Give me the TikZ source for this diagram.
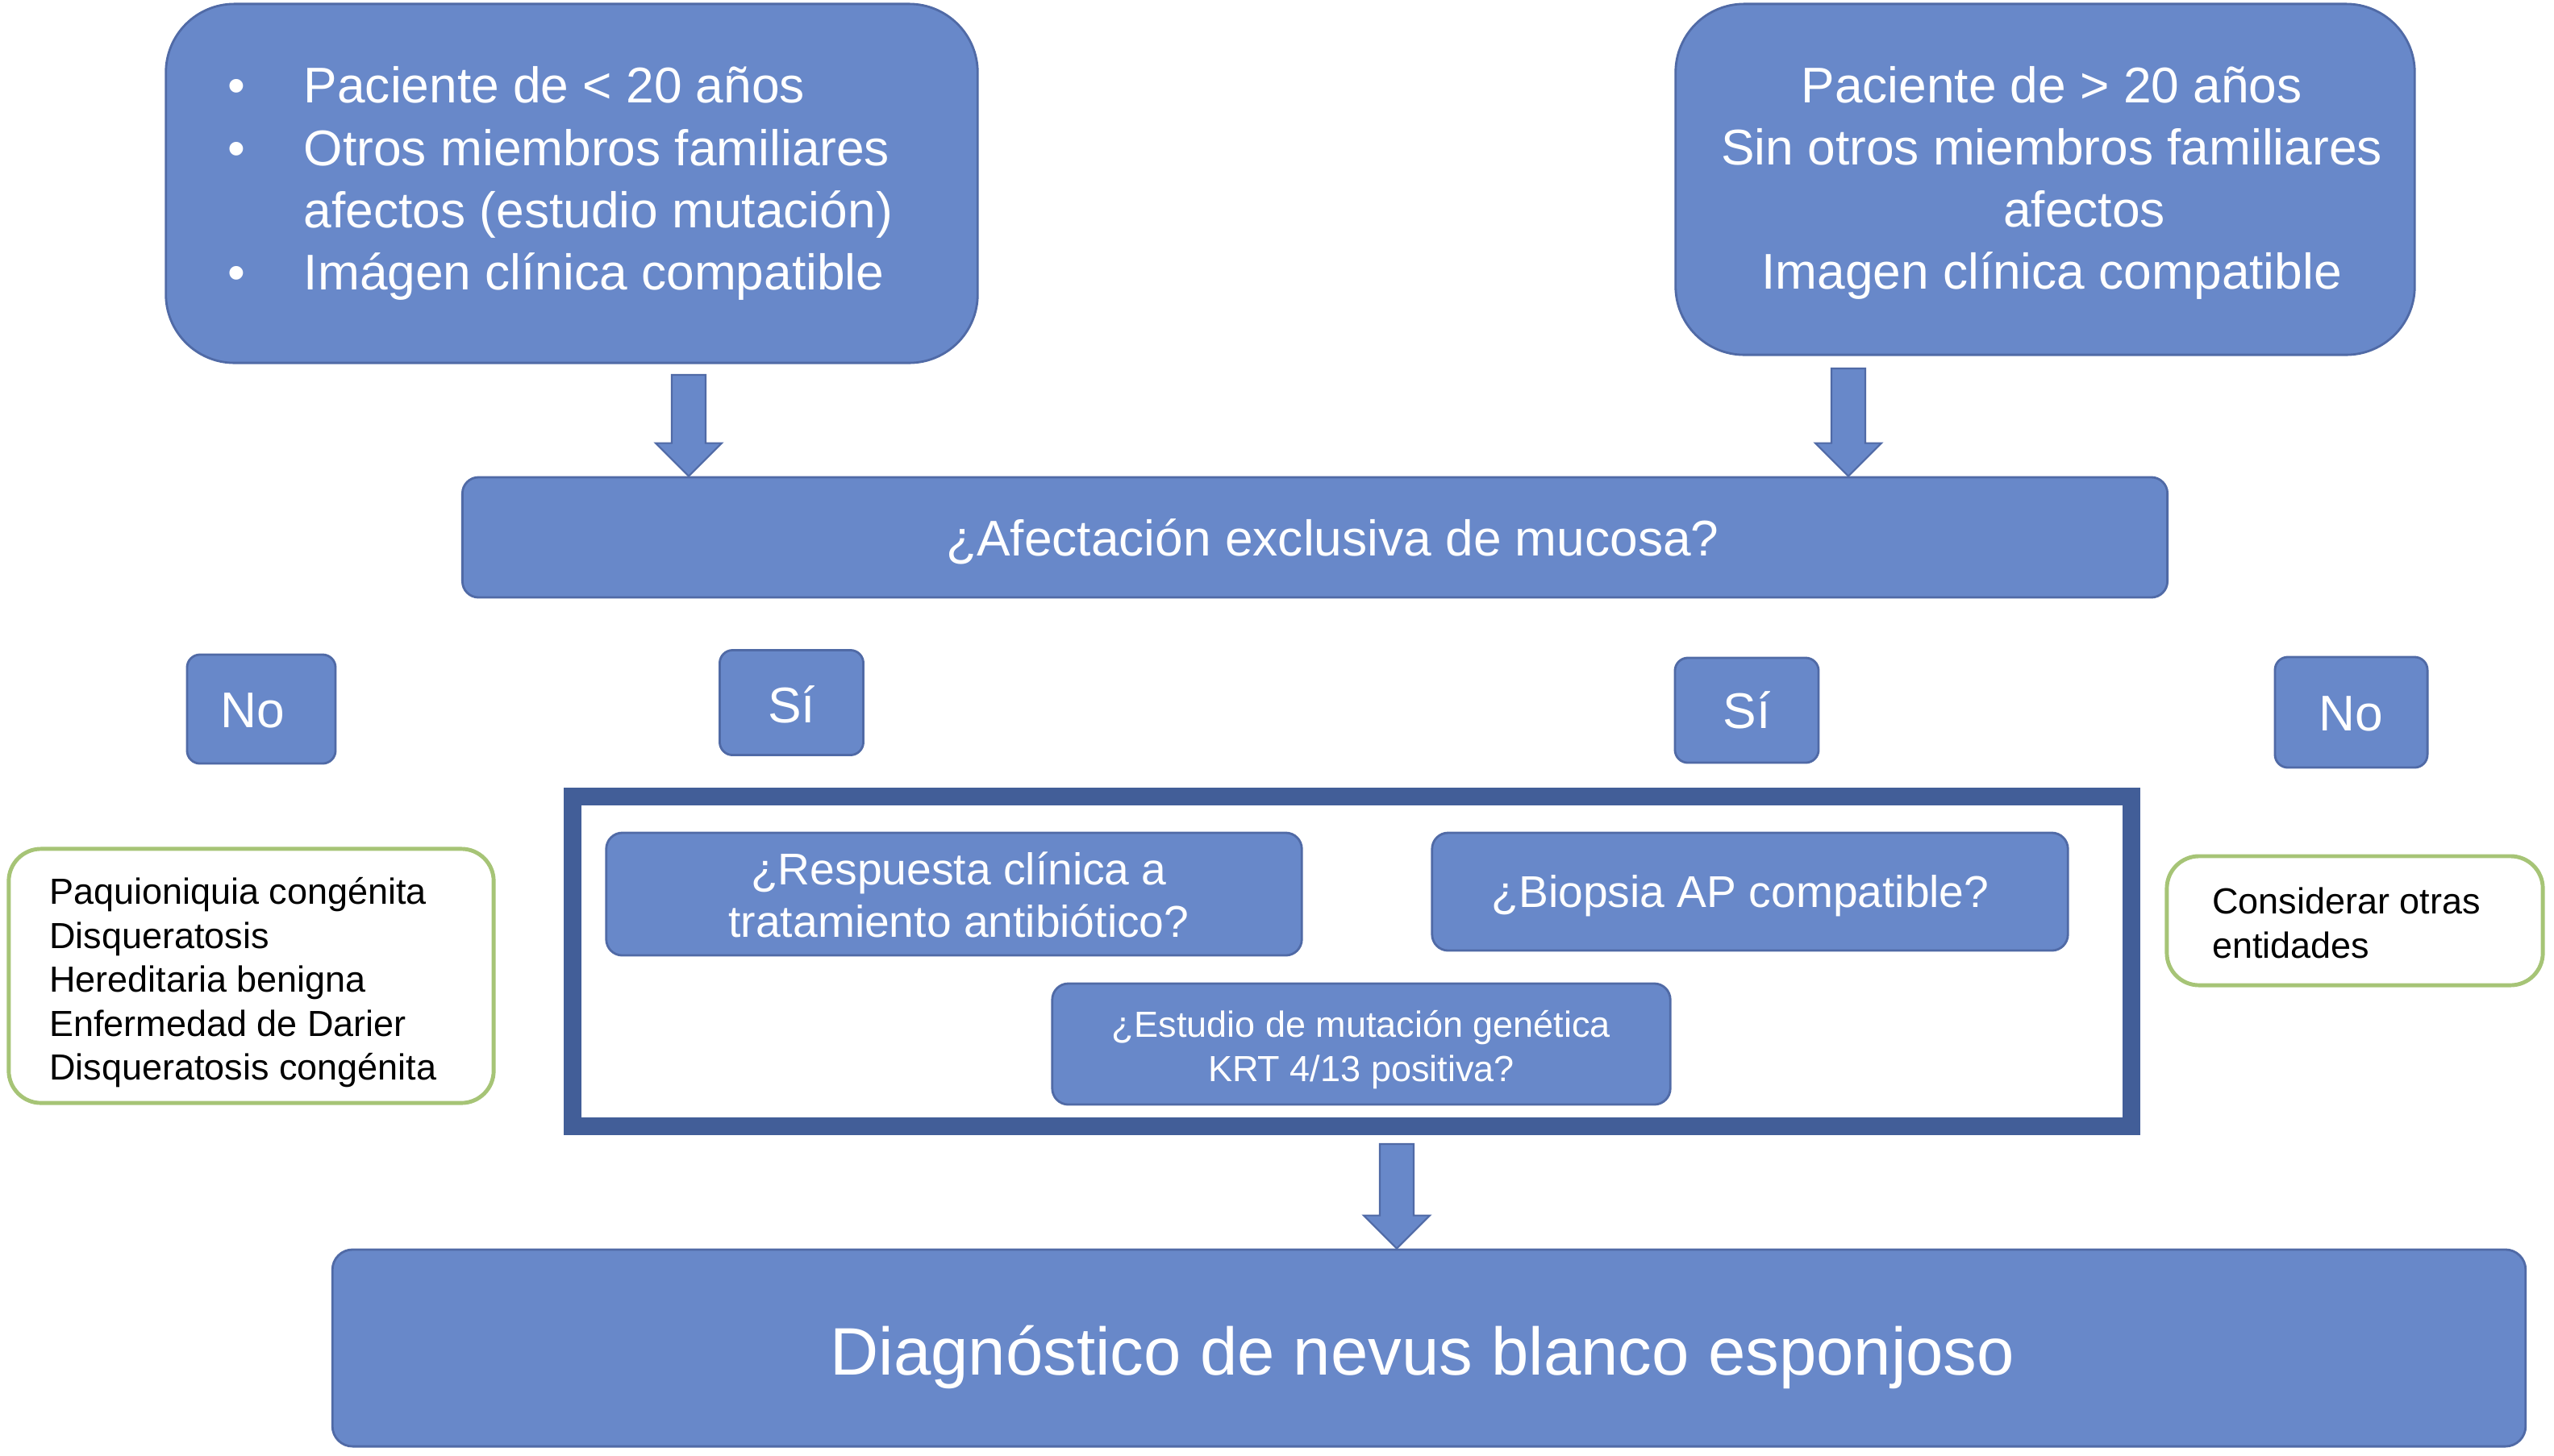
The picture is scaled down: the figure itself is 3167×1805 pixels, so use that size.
\documentclass[tikz,border=0pt]{standalone}
\usepackage{fontspec}
\setmainfont{Liberation Sans}
\usetikzlibrary{calc,positioning}
\definecolor{boxblue}{RGB}{104,136,201}
\definecolor{boxline}{RGB}{80,106,166}
\definecolor{framecol}{RGB}{66,94,152}
\definecolor{greenline}{RGB}{166,196,118}
% block arrow from a start coordinate down to its tip
\newcommand{\blockdown}[2]{%
	\draw[blockarr] ($(#1)+(-21,0)$) -- ($(#1)+(21,0)$) -- ($(#2)+(21,-41)$) -- ($(#2)+(41,-41)$)
	-- (#2) -- ($(#2)+(-41,-41)$) -- ($(#2)+(-21,-41)$) -- cycle;}
% stacked lines: left pad, right pad, alignment, lines
\newcommand{\stack}[4]{\begin{tabular}[t]{@{\hspace{#1}}#3@{\hspace{#2}}}#4\end{tabular}}

\begin{document}
\begin{tikzpicture}[
		x=0.01cm,y=-0.01cm,
		big/.style={font=\fontsize{17.7}{21.9}\selectfont},
		mid/.style={font=\fontsize{15.7}{18.5}\selectfont},
		small/.style={font=\fontsize{12.8}{15.5}\selectfont},
		bluebox/.style={draw=boxline,fill=boxblue,text=white,line width=0.8pt,inner sep=0pt},
		answer/.style={bluebox,big,rounded corners=0.16cm,text height=12.8pt,text depth=0pt},
		listbox/.style={draw=greenline,fill=white,line width=1.4pt,small,inner sep=0pt,rounded corners=0.4cm},
		frame/.style={draw=framecol,line width=0.22cm,fill=white},
		blockarr/.style={draw=boxline,fill=boxblue,line width=0.6pt}
		]
		\useasboundingbox (0,0) rectangle (3167,1805);
		
		% --- Starting boxes
		\node[bluebox,big,rounded corners=0.85cm,minimum width=10.06cm,minimum height=4.45cm,text height=13.4pt,text depth=70pt] (menor) at (709,227.5) {%
			\begin{tabular}[t]{@{}c@{\hspace{20.5pt}}l@{\hspace{8pt}}}
				\textbullet & Paciente de < 20 años\\
				\textbullet & Otros miembros familiares\\
				& afectos (estudio mutación)\\
				\textbullet & Imágen clínica compatible
		\end{tabular}};
		\node[bluebox,big,rounded corners=0.85cm,minimum width=9.16cm,minimum height=4.35cm,text height=16.2pt,text depth=70pt] (mayor) at (2536,222.5)
		{\stack{4.6pt}{0pt}{c}{Paciente de > 20 años\\Sin otros miembros familiares\\\hspace*{23pt}afectos\\Imagen clínica compatible}};
		
		\node[bluebox,big,rounded corners=0.2cm,minimum width=21.13cm,minimum height=1.49cm,text height=12.8pt,text depth=0pt] (mucosa) at (1630.5,666.5) {\hspace{12.5pt}¿Afectación exclusiva de mucosa?};
		
		\coordinate (a1) at (854,465);
		\coordinate (a2) at (2292,457);
		\blockdown{a1}{a1 |- mucosa.north}
		\blockdown{a2}{a2 |- mucosa.north}
		
		% --- Answers
		\node[answer,minimum width=1.84cm,minimum height=1.35cm] (no1) at (324,879.5) {No\hspace*{6pt}};
		\node[answer,minimum width=1.78cm,minimum height=1.3cm,text height=14.4pt] (si1) at (981.5,871.5) {Sí};
		\node[answer,minimum width=1.78cm,minimum height=1.3cm] (si2) at (2166,881) {Sí};
		\node[answer,minimum width=1.89cm,minimum height=1.37cm] (no2) at (2915.5,883.5) {No};
		
		% --- Other entities
		\node[listbox,minimum width=6.01cm,minimum height=3.15cm,text height=11.6pt,text depth=62pt] (otras1) at (311.5,1210.5)
		{\stack{0pt}{5.8pt}{l}{Paquioniquia congénita\\Disqueratosis\\Hereditaria benigna\\Enfermedad de Darier\\Disqueratosis congénita}};
		\node[listbox,minimum width=4.66cm,minimum height=1.6cm,text height=11.4pt,text depth=16pt] (otras2) at (2920,1142)
		{\stack{0pt}{6pt}{l}{Considerar otras\\entidades}};
		
		% --- Confirmation block
		\node[frame,minimum width=19.31cm,minimum height=4.09cm] (marco) at (1676.5,1192.5) {};
		\node[bluebox,mid,rounded corners=0.2cm,minimum width=8.62cm,minimum height=1.52cm,text height=13.2pt,text depth=20pt] (resp) at (1183,1109)
		{\stack{3.4pt}{0pt}{c}{¿Respuesta clínica a\\tratamiento antibiótico?}};
		\node[bluebox,mid,rounded corners=0.2cm,minimum width=7.88cm,minimum height=1.46cm,text height=11.3pt,text depth=0pt] (biop) at (2170,1106) {¿Biopsia AP compatible?\hspace*{6.8pt}};
		\node[bluebox,small,rounded corners=0.2cm,minimum width=7.66cm,minimum height=1.5cm,text height=11.4pt,text depth=16pt] (gen) at (1688,1295)
		{\stack{0pt}{0pt}{c}{¿Estudio de mutación genética\\KRT 4/13 positiva?}};
		
		% --- Diagnosis
		\node[bluebox,font=\fontsize{23.7}{28}\selectfont,rounded corners=0.25cm,minimum width=27.18cm,minimum height=2.44cm,text height=19pt,text depth=0pt] (diag) at (1772,1672) {Diagnóstico de nevus blanco esponjoso\hspace*{4.6pt}};
		\coordinate (a3) at (1732,1419);
		\blockdown{a3}{a3 |- diag.north}
		
	\end{tikzpicture}
\end{document}
